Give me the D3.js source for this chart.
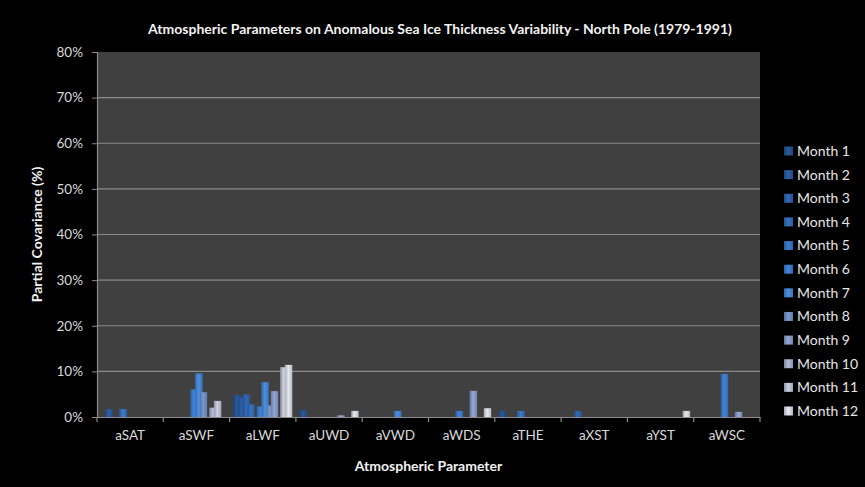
<!DOCTYPE html>
<html>
<head>
<meta charset="utf-8">
<script src="https://cdn.jsdelivr.net/npm/d3@7/dist/d3.min.js"></script>
<style>
  html, body { margin: 0; padding: 0; background: #000; }
  svg { display: block; }
  text { font-family: Lato, "Open Sans", sans-serif; }
</style>
</head>
<body>
<svg id="chart" width="865" height="487"></svg>
<script>
// ---- Data ----
const categories = ["aSAT", "aSWF", "aLWF", "aUWD", "aVWD", "aWDS", "aTHE", "aXST", "aYST", "aWSC"];
const months = ["Month 1", "Month 2", "Month 3", "Month 4", "Month 5", "Month 6",
                "Month 7", "Month 8", "Month 9", "Month 10", "Month 11", "Month 12"];
// values in % per category (same order as categories)
const month1  = [0,   0,   4.8,  1.5,  0,   0,   1.3, 0,   0,   0];
const month2  = [1.7, 0,   4.2,  0,    0,   0,   0,   0,   0,   0];
const month3  = [0,   0,   4.9,  0,    0,   0,   0,   1.3, 0,   0];
const month4  = [0,   0,   2.7,  0,    0,   0,   0,   0,   0,   0];
const month5  = [1.7, 0,   0,    0,    0,   0,   1.3, 0,   0,   0];
const month6  = [0,   6.0, 2.25, 0,    0,   1.3, 0,   0,   0,   9.4];
const month7  = [0,   9.5, 7.6,  0,    1.3, 0,   0,   0,   0,   0];
const month8  = [0,   5.4, 2.5,  0,    0,   0,   0,   0,   0,   0];
const month9  = [0,   0,   5.65, 0.35, 0,   5.7, 0,   0,   0,   1.1];
const month10 = [0,   2.0, 0,    0,    0,   0,   0,   0,   0,   0];
const month11 = [0,   3.5, 10.9, 0,    0,   0,   0,   0,   0,   0];
const month12 = [0,   0,   11.4, 1.3,  0,   1.9, 0,   0,   1.3, 0];
const seriesValues = [month1, month2, month3, month4, month5, month6,
                      month7, month8, month9, month10, month11, month12];
const yTicks = [0, 10, 20, 30, 40, 50, 60, 70, 80];

const title = "Atmospheric Parameters on Anomalous Sea Ice Thickness  Variability - North Pole (1979-1991)";
const xTitle = "Atmospheric Parameter";
const yTitle = "Partial Covariance (%)";

// ---- Styles ----
const monthColors = ["#244f8c", "#285697", "#2c5ea3", "#3066af", "#346eba", "#3976c4",
                     "#427fcc", "#6a88ba", "#8395c0", "#9ea6c0", "#b4b8c8", "#cccfd6"];

const svg = d3.select("#chart");
const W = 865, H = 487;
const plot = { left: 97, right: 760, top: 52, bottom: 417 };

svg.append("rect").attr("width", W).attr("height", H).attr("fill", "#000");

// gradients
const defs = svg.append("defs");
monthColors.forEach((c, i) => {
  const g = defs.append("linearGradient").attr("id", "grad" + i)
    .attr("x1", "0%").attr("x2", "100%").attr("y1", "0%").attr("y2", "0%");
  const base = d3.color(c);
  g.append("stop").attr("offset", "0%").attr("stop-color", base.darker(0.6));
  g.append("stop").attr("offset", "45%").attr("stop-color", base.brighter(0.35));
  g.append("stop").attr("offset", "100%").attr("stop-color", base.darker(0.3));
});

const x = d3.scaleBand().domain(categories).range([plot.left, plot.right]).padding(0);
const y = d3.scaleLinear().domain([0, 80]).range([plot.bottom, plot.top]);
const xSub = d3.scalePoint().domain(months)
  .range([-x.bandwidth() * 0.39, x.bandwidth() * 0.39]);
const barW = 7;

// plot area
svg.append("rect")
  .attr("x", plot.left).attr("y", plot.top)
  .attr("width", plot.right - plot.left).attr("height", plot.bottom - plot.top)
  .attr("fill", "#404040");

// gridlines
svg.append("g").selectAll("line")
  .data(yTicks.filter(t => t > 0 && t < 80))
  .join("line")
  .attr("x1", plot.left).attr("x2", plot.right)
  .attr("y1", d => y(d)).attr("y2", d => y(d))
  .attr("stroke", "#8a8a8a").attr("stroke-width", 1.2);

// bars
const bars = svg.append("g");
seriesValues.forEach((vals, si) => {
  bars.append("g").selectAll("rect")
    .data(vals.map((v, ci) => ({ v, c: categories[ci] })).filter(d => d.v > 0))
    .join("rect")
    .attr("x", d => x(d.c) + x.bandwidth() / 2 + xSub(months[si]) - barW / 2)
    .attr("width", barW)
    .attr("y", d => y(d.v))
    .attr("height", d => y(0) - y(d.v))
    .attr("fill", "url(#grad" + si + ")")
    .attr("stroke", d3.color(monthColors[si]).brighter(0.5))
    .attr("stroke-opacity", 0.35)
    .attr("stroke-width", 0.6);
});

// y axis
const yAxis = d3.axisLeft(y).tickValues(yTicks).tickFormat(d => d + "%").tickSize(5).tickPadding(9);
const gy = svg.append("g").attr("transform", `translate(${plot.left},0)`).call(yAxis);
gy.select(".domain").attr("stroke", "#8a8a8a").attr("stroke-width", 1.2);
gy.selectAll(".tick line").attr("stroke", "#8a8a8a");
gy.selectAll(".tick text").attr("fill", "#d9d9d9").style("font-size", "13.5px")
  .style("font-family", "Lato, sans-serif");

// x axis
const xAxis = d3.axisBottom(x).tickSize(0).tickPadding(13);
const gx = svg.append("g").attr("transform", `translate(0,${plot.bottom})`).call(xAxis);
gx.select(".domain").attr("stroke", "#8a8a8a").attr("stroke-width", 1.2);
gx.selectAll(".tick text").attr("fill", "#d9d9d9").style("font-size", "13.5px")
  .style("font-family", "Lato, sans-serif");
// category boundary ticks
const bounds = categories.map(c => x(c)).concat([plot.right]);
gx.append("g").selectAll("line").data(bounds).join("line")
  .attr("x1", d => d).attr("x2", d => d).attr("y1", 0).attr("y2", 5)
  .attr("stroke", "#8a8a8a").attr("stroke-width", 1.2);

// titles
svg.append("text").attr("x", 440).attr("y", 34).attr("text-anchor", "middle")
  .attr("fill", "#f2f2f2").style("font-size", "14px").style("font-weight", "bold")
  .text(title);
svg.append("text").attr("x", (plot.left + plot.right) / 2).attr("y", 471).attr("text-anchor", "middle")
  .attr("fill", "#f2f2f2").style("font-size", "14px").style("font-weight", "bold")
  .text(xTitle);
svg.append("text").attr("transform", `translate(42,${(plot.top + plot.bottom) / 2}) rotate(-90)`)
  .attr("text-anchor", "middle")
  .attr("fill", "#f2f2f2").style("font-size", "14px").style("font-weight", "bold")
  .text(yTitle);

// legend
const legY = d3.scalePoint().domain(months).range([151, 411]);
const leg = svg.append("g").selectAll("g").data(months).join("g")
  .attr("transform", d => `translate(784,${legY(d)})`);
leg.append("rect").attr("x", 0).attr("y", -4.5).attr("width", 9).attr("height", 9)
  .attr("fill", (d, i) => "url(#grad" + i + ")");
leg.append("text").attr("x", 13).attr("y", 0).attr("dy", "0.35em")
  .attr("fill", "#e6e6e6").style("font-size", "14px").text(d => d);
</script>
</body>
</html>
